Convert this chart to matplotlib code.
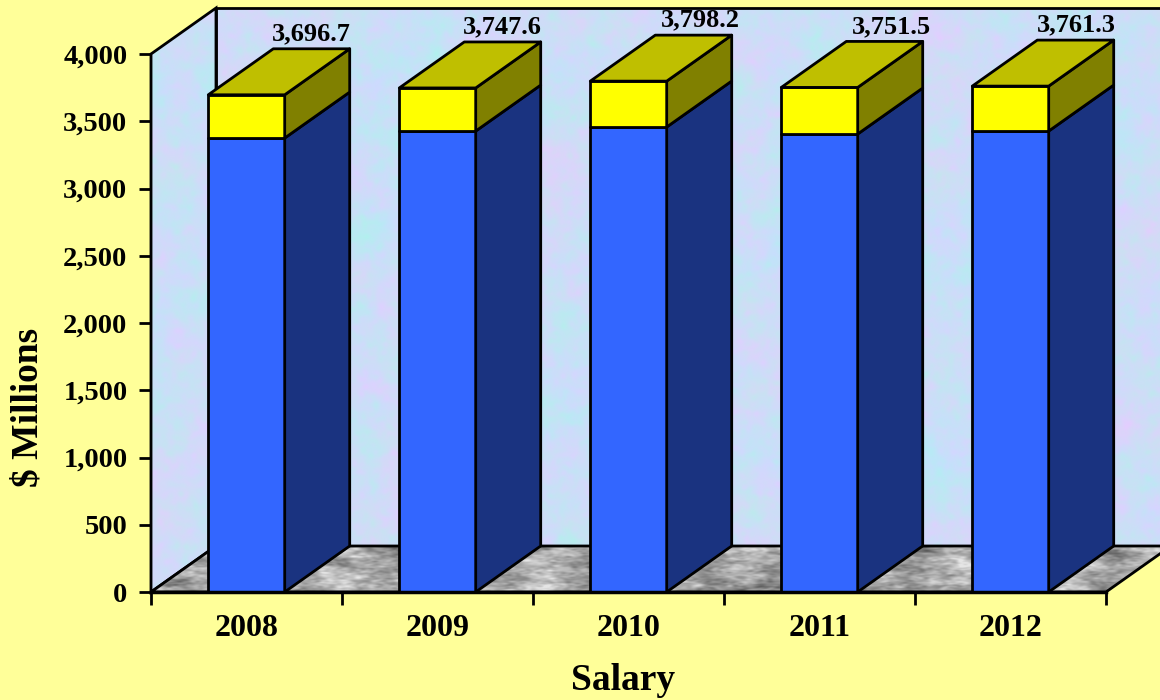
#!/usr/bin/env python

import numpy as np
import matplotlib
matplotlib.use('Agg')
import matplotlib.pyplot as plt
from matplotlib.patches import Polygon

years = ['2008', '2009', '2010', '2011', '2012']
totals = [3696.7, 3747.6, 3798.2, 3751.5, 3761.3]
lower = [3375, 3427, 3457, 3405, 3427]
y_ticks = [0, 500, 1000, 1500, 2000, 2500, 3000, 3500, 4000]

plt.rcParams['font.family'] = ['Liberation Serif', 'DejaVu Serif']
plt.rcParams['font.weight'] = 'bold'

BG = '#FFFF99'
W, H = 1160, 700


def mottle(h, w, offset, scale=1.0, stretch=1.0):
    # wall/floor texture only, not data: sum of waves turned by the golden angle
    yy, xx = np.mgrid[0:h, 0:w]
    out = np.zeros((h, w))
    for i in range(1, 90):
        ang = i * 2.39996 + offset
        freq = scale * (0.02 + 0.0035 * i)
        u = xx * np.cos(ang) * freq + yy * np.sin(ang) * freq * stretch
        out += np.sin(u + i * i * 0.7 + offset) / np.sqrt(i)
    out = (out - out.mean()) / out.std()
    return out


def textured(img, poly, **kw):
    # image clipped to a polygon, allowed to run outside the axes box
    im = ax.imshow(img, aspect='auto', **kw)
    im.set_clip_box(fig.bbox)
    im.set_clip_path(Polygon(poly, transform=ax.transData))
    return im


fig = plt.figure(figsize=(W / 100, H / 100), dpi=100, facecolor=BG)
ax = fig.add_axes([151 / W, (H - 592) / H, 955 / W, 538 / H])
ax.set_facecolor('none')

# depth of the fake 3d, in data units
dx = 65 / 191
dy = 46 / 538 * 4000
width = 0.4
x0, x1 = -0.5, 4.5
ymax = 4000

# walls
a = mottle(590, 1030, 0.3, 0.8)
b = mottle(590, 1030, 1.9, 2.6)
wall = np.dstack([
    np.clip(0.80 - 0.018 * a + 0.018 * b, 0, 1),
    np.clip(0.87 + 0.010 * a - 0.014 * b, 0, 1),
    np.clip(0.97 + 0.010 * b, 0, 1),
])
back_pts = [(x0 + dx, dy), (x1 + dx, dy), (x1 + dx, ymax + dy), (x0 + dx, ymax + dy)]
side_pts = [(x0, 0), (x0 + dx, dy), (x0 + dx, ymax + dy), (x0, ymax)]
textured(wall, side_pts, extent=(x0, x1 + dx, 0, ymax + dy), zorder=1)
textured(wall[::-1], back_pts, extent=(x0 + dx, x1 + dx, dy, ymax + dy), zorder=1)
ax.add_patch(Polygon(back_pts, fc='none', ec='black', lw=2, clip_on=False, zorder=2))
ax.add_patch(Polygon(side_pts, fc='none', ec='black', lw=2, clip_on=False, zorder=2))

# floor
c = mottle(100, 1030, 0.8, 2.6, 1.6)
d = mottle(100, 1030, 2.6, 1.2, 1.6)
shade = np.clip(0.66 + 0.07 * c + 0.06 * d, 0.25, 0.9)
floor_pts = [(x0, 0), (x1, 0), (x1 + dx, dy), (x0 + dx, dy)]
textured(shade, floor_pts, cmap='gray', vmin=0, vmax=1,
         extent=(x0, x1 + dx, 0, dy), zorder=2.5)
ax.add_patch(Polygon(floor_pts, fc='none', ec='black', lw=2, clip_on=False, zorder=3))

# labels of 2010 and 2011 sit a bit right of their bars
label_shift = [0, 0, 7, 7, 1]

for i, (low, tot) in enumerate(zip(lower, totals)):
    l = i - width / 2
    r = i + width / 2
    faces = [
        ([(l, 0), (r, 0), (r, low), (l, low)], '#3366FF'),
        ([(l, low), (r, low), (r, tot), (l, tot)], '#FFFF00'),
        ([(r, 0), (r + dx, dy), (r + dx, low + dy), (r, low)], '#1A3380'),
        ([(r, low), (r + dx, low + dy), (r + dx, tot + dy), (r, tot)], '#808000'),
        ([(l, tot), (r, tot), (r + dx, tot + dy), (l + dx, tot + dy)], '#BFBF00'),
    ]
    for pts, col in faces:
        ax.add_patch(Polygon(pts, fc=col, ec='black', lw=2, joinstyle='round',
                             clip_on=False, zorder=4))
    ax.annotate(f'{tot:,.1f}', xy=(i + dx, tot + dy), xytext=(label_shift[i] * 0.72, 6),
                textcoords='offset points', ha='center', va='baseline',
                fontsize=19, fontweight='bold', color='black',
                annotation_clip=False, zorder=5)

ax.set_xlim(x0, x1)
ax.set_ylim(0, ymax)

for name in ['top', 'right']:
    ax.spines[name].set_visible(False)
ax.spines['left'].set_linewidth(1.5)
ax.spines['bottom'].set_linewidth(2.5)
ax.spines['left'].set_zorder(6)
ax.spines['bottom'].set_zorder(6)

ax.set_yticks(y_ticks)
ax.set_yticklabels([f'{v:,}' for v in y_ticks], fontsize=20.5, fontweight='bold')
ax.tick_params(axis='y', length=9, width=2, pad=8)

ax.set_xticks(np.arange(x0, x1 + 1))
ax.set_xticklabels([])
ax.tick_params(axis='x', which='major', length=9, width=2)
ax.set_xticks(range(len(years)), minor=True)
ax.set_xticklabels(years, minor=True, fontsize=23, fontweight='bold')
ax.tick_params(axis='x', which='minor', length=0, pad=16)

fig.text(623 / W, 1 - 680 / H, 'Salary', ha='center', va='center', fontsize=27, fontweight='bold')
fig.text(28 / W, 1 - 407 / H, '$ Millions', ha='center', va='center', rotation=90,
         fontsize=27, fontweight='bold')

fig.savefig('out.png', dpi=100, facecolor=BG)
